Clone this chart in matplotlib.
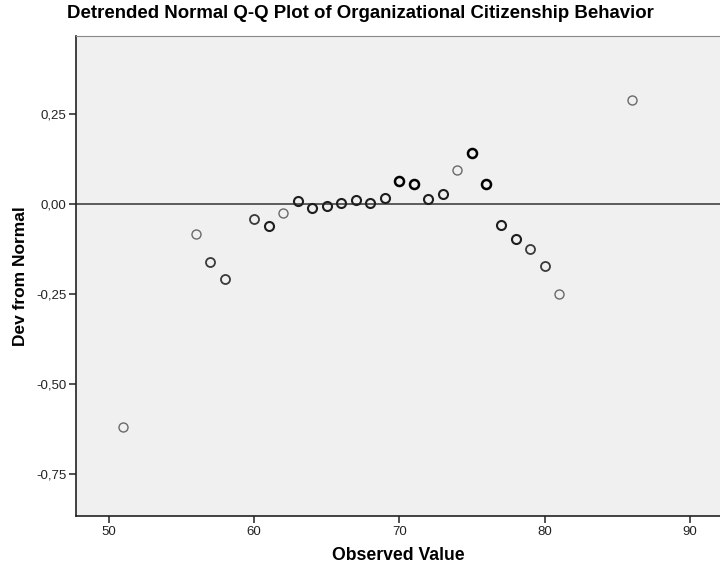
#!/usr/bin/env python

import matplotlib
matplotlib.use("Agg")
import matplotlib.pyplot as plt
from matplotlib.ticker import FuncFormatter

observed = [51, 56, 57, 58, 60, 61, 62, 63, 64, 65, 66, 67, 68, 69, 70,
            71, 72, 73, 74, 75, 76, 77, 78, 79, 80, 81, 86]
deviation = [-0.620, -0.084, -0.160, -0.208, -0.042, -0.062, -0.024, 0.009,
             -0.011, -0.006, 0.003, 0.010, 0.004, 0.016, 0.064, 0.055, 0.015,
             0.027, 0.094, 0.141, 0.056, -0.059, -0.096, -0.124, -0.172,
             -0.250, 0.288]
# rough number of overlapping cases per point (darker = more)
cases = [1, 1, 2, 2, 2, 3, 1, 3, 3, 3, 3, 3, 3, 3, 4, 4, 3, 3, 1, 4, 4, 3,
         3, 2, 2, 1, 1]

xticks = [50, 60, 70, 80, 90]
yticks = [0.25, 0.0, -0.25, -0.50, -0.75]

plt.rcParams["font.family"] = ["Liberation Sans", "DejaVu Sans"]

fig = plt.figure(figsize=(7.2, 5.71), dpi=100)
ax = fig.add_axes([76 / 720, 55 / 571, 644 / 720, 480 / 571])
ax.set_facecolor("#f0f0f0")

# zero reference line
ax.axhline(0, color="#333333", lw=1.1, zorder=1)

shade = {1: "#6a6a6a", 2: "#3a3a3a", 3: "#1e1e1e", 4: "#000000"}
width = {1: 1.0, 2: 1.3, 3: 1.5, 4: 1.8}
for x, y, n in zip(observed, deviation, cases):
    ax.plot(x, y, "o", ms=6.5, mfc="none", mec=shade[n], mew=width[n], zorder=3)

ax.set_xlim(47.75, 92.07)
ax.set_ylim(-0.867, 0.467)
ax.set_xticks(xticks)
ax.set_yticks(yticks)
ax.yaxis.set_major_formatter(FuncFormatter(lambda v, p: f"{v:.2f}".replace(".", ",")))

ax.tick_params(direction="out", length=5, width=1.2, color="#333333",
               labelsize=9.5, labelcolor="#222222", pad=2)

ax.spines["left"].set_color("#222222")
ax.spines["bottom"].set_color("#222222")
ax.spines["left"].set_linewidth(1.2)
ax.spines["bottom"].set_linewidth(1.2)
ax.spines["top"].set_color("#888888")
ax.spines["right"].set_visible(False)

ax.set_xlabel("Observed Value", fontsize=12.7, fontweight="bold", labelpad=7)
ax.set_ylabel("Dev from Normal", fontsize=12.5, fontweight="bold", labelpad=6)
fig.text(0.5, 1 - 13 / 571, "Detrended Normal Q-Q Plot of Organizational Citizenship Behavior",
         ha="center", va="center", fontsize=13.4, fontweight="bold")

plt.savefig("out.png", dpi=100, facecolor="white")
